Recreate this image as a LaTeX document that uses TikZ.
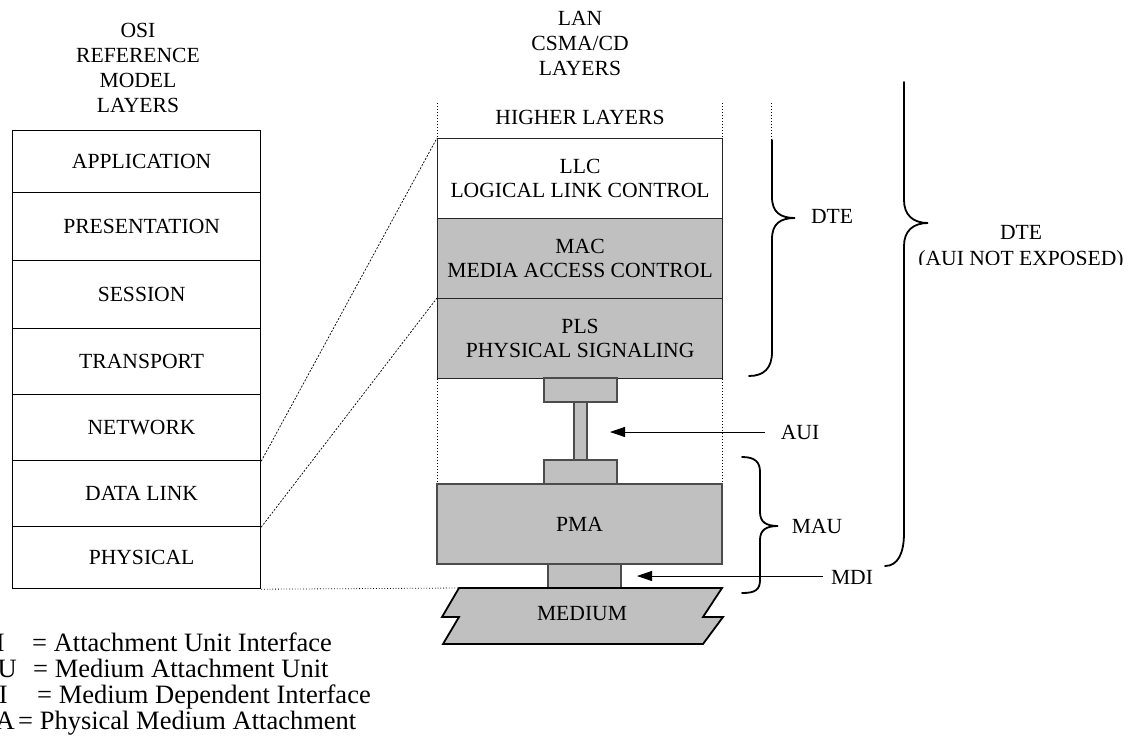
\documentclass[tikz,border=0pt]{standalone}
\usepackage{fontspec}
\setmainfont{Liberation Serif}
\usetikzlibrary{arrows.meta}
\definecolor{layergray}{HTML}{C0C0C0}
\begin{document}
\begin{tikzpicture}[x=1pt,y=-1pt,
  every node/.style={font=\fontsize{21.6}{24}\selectfont, inner sep=0pt, align=center},
  titletext/.style={font=\fontsize{21.6}{25}\selectfont},
  osibox/.style={draw=black, line width=1.2pt, minimum width=248pt, anchor=north west},
  lanbox/.style={draw=black!85, line width=1.2pt, minimum width=285pt, anchor=north west},
  graybox/.style={draw=black!70, line width=1.2pt, fill=layergray},
  legend/.style={font=\fontsize{26.5}{27}\selectfont},
  guide/.style={dotted, line width=1pt},
  map/.style={line width=0.7pt, dash pattern=on 2pt off 1.5pt},
  bracestyle/.style={line width=1.8pt, line cap=round},
  pointer/.style={line width=0.8pt, -{Triangle[length=15pt,width=10pt]}}
]
\clip (0,0) rectangle (1133,747);
\useasboundingbox (0,0) rectangle (1133,747);

% titles
\node[titletext] (osititle) at (138,68) {OSI\\REFERENCE\\MODEL\\LAYERS};
\node[titletext] (lantitle) at (580,43) {LAN\\CSMA/CD\\LAYERS};

% OSI stack
\node[osibox, minimum height=62pt] (app) at (12,130) {\hspace*{10pt}APPLICATION};
\node[osibox, minimum height=68pt] (pres) at (12,192) {\hspace*{10pt}PRESENTATION};
\node[osibox, minimum height=68pt] (sess) at (12,260) {\hspace*{10pt}SESSION};
\node[osibox, minimum height=66pt] (trans) at (12,328) {\hspace*{10pt}TRANSPORT};
\node[osibox, minimum height=66pt] (net) at (12,394) {\hspace*{10pt}NETWORK};
\node[osibox, minimum height=66pt] (dl) at (12,460) {\hspace*{10pt}DATA LINK};
\node[osibox, minimum height=62pt] (phy) at (12,526) {\hspace*{10pt}PHYSICAL};

% dotted guides of LAN stack
\draw[guide] (437,103) -- (437,484);
\draw[guide] (722,103) -- (722,484);
\draw[guide] (771,103) -- (771,185);
\draw[guide] (903,102) -- (903,183);

\node (higher) at (580,117) {HIGHER LAYERS};

% LAN stack
\node[lanbox, fill=white, minimum height=80pt] (llc) at (437,138) {LLC\\LOGICAL LINK CONTROL};
\node[lanbox, fill=layergray, minimum height=80pt] (mac) at (437,218) {MAC\\MEDIA ACCESS CONTROL};
\node[lanbox, fill=layergray, minimum height=80pt] (pls) at (437,298) {PLS\\PHYSICAL SIGNALING};
\node[graybox, minimum width=73pt, minimum height=24pt] (auiup) at (580.5,390) {};
\node[graybox, minimum width=13pt, minimum height=58pt] (auibar) at (580.5,431) {};
\node[graybox, minimum width=73pt, minimum height=24pt] (auilow) at (580.5,472) {};
\node[graybox, minimum width=285pt, minimum height=80pt] (pma) at (579.5,524) {PMA};
\node[graybox, minimum width=73pt, minimum height=24pt] (mdibox) at (584.5,576) {};

% medium
\coordinate (medtl) at (459,588);
\draw[line width=1.8pt, fill=layergray, line join=miter]
  (medtl) -- (722,588) -- (703,617) -- (723,617) -- (703,644)
  -- (443,644) -- (459,617) -- (442,617) -- cycle;
\node (medium) at (582,614) {MEDIUM};

% mapping lines
\draw[map] (net.south east) -- (llc.north west);
\draw[map] (dl.south east) -- (pls.north west);
\draw[guide, line width=0.8pt] (phy.south east) -- (medtl);

% braces
\draw[bracestyle] (772,140) -- (772,197)
  .. controls (772,212) and (780,218) .. (795,218)
  .. controls (780,218) and (772,224) .. (772,239) -- (772,352)
  .. controls (772,368) and (764,376) .. (749,376);
\draw[bracestyle] (904,82) -- (904,200)
  .. controls (904,215) and (913,223) .. (928,223)
  .. controls (913,223) and (904,231) .. (904,246) -- (904,533)
  .. controls (904,553) and (898,566) .. (885,566);
\draw[bracestyle] (742,457)
  .. controls (755,457) and (760,462) .. (760,472) -- (760,512)
  .. controls (760,522) and (766,526) .. (778,526)
  .. controls (766,526) and (760,530) .. (760,540) -- (760,580)
  .. controls (760,590) and (755,593) .. (742,593);

% brace labels
\node (dte) at (832,216) {DTE};
\node (dtebig) at (1021,232) {DTE};
\begin{scope}
  \clip (880,240) rectangle (1133,264);
  \node[anchor=base] (notexposed) at (1021,265) {(AUI NOT EXPOSED)};
\end{scope}
\node (mau) at (817,526) {MAU};

% pointers
\node (auilabel) at (800,432) {AUI};
\coordinate (auistart) at (765,432);
\coordinate (auitip) at (610,432);
\draw[pointer] (auistart) -- (auitip);
\node (mdilabel) at (852,577) {MDI};
\coordinate (mdistart) at (823,576);
\coordinate (mditip) at (637,576);
\draw[pointer] (mdistart) -- (mditip);

% legend
\node[legend, anchor=base east] (lg1a) at (5,651) {AUI};
\node[legend, anchor=base west] (lg1b) at (32,651) {= Attachment Unit Interface};
\node[legend, anchor=base east] (lg2a) at (17,677) {MAU};
\node[legend, anchor=base west] (lg2b) at (33,677) {= Medium Attachment Unit};
\node[legend, anchor=base east] (lg3a) at (8,703) {MDI};
\node[legend, anchor=base west] (lg3b) at (37,703) {= Medium Dependent Interface};
\node[legend, anchor=base east] (lg4a) at (15,729) {PMA};
\node[legend, anchor=base west] (lg4b) at (18,729) {= Physical Medium Attachment};
\end{tikzpicture}
\end{document}
